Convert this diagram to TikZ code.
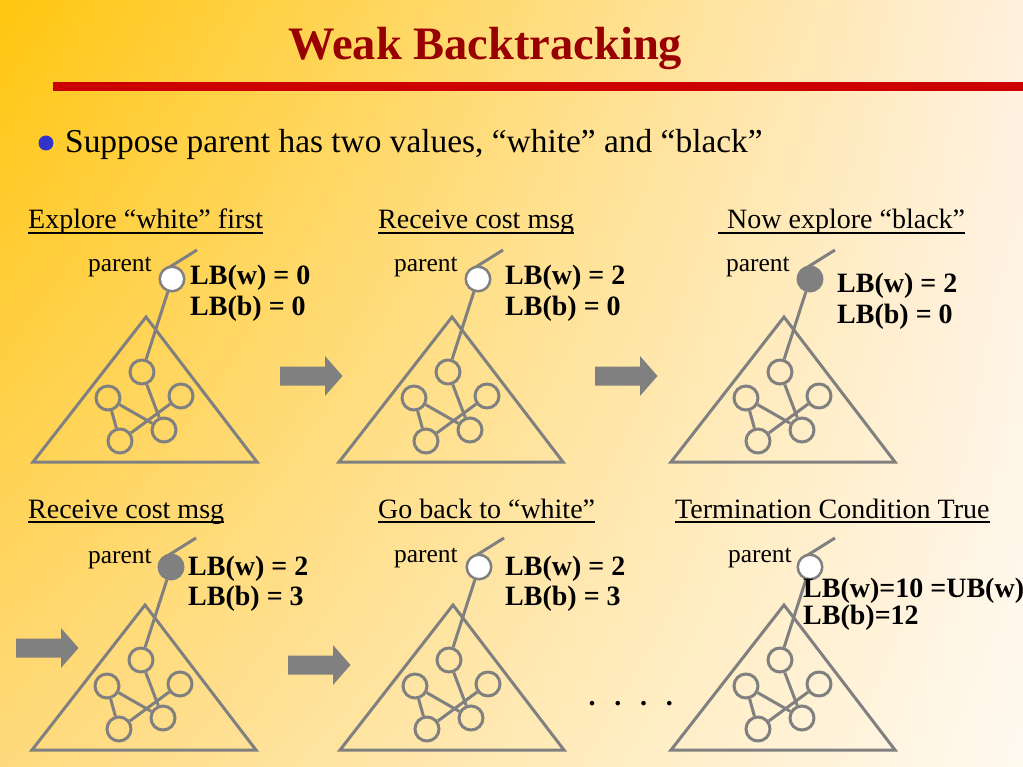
\documentclass[tikz,border=0pt]{standalone}
\usepackage{fontspec}
\setmainfont{Liberation Serif}
\usetikzlibrary{shadings}
\definecolor{bgTL}{RGB}{255,198,15}
\definecolor{bgTR}{RGB}{255,240,222}
\definecolor{bgBL}{RGB}{255,218,125}
\definecolor{bgBR}{RGB}{255,249,240}
\definecolor{ttl}{RGB}{153,0,0}
\definecolor{rline}{RGB}{204,0,0}
\definecolor{bul}{RGB}{51,51,204}
\definecolor{gr}{RGB}{128,128,128}
\tikzset{
  gline/.style={draw=gr, line width=3pt},
  small/.style={circle, draw=gr, line width=3pt, minimum size=24pt, inner sep=0pt},
  pnode/.style={circle, draw=gr, line width=2.5pt, minimum size=24.5pt, inner sep=0pt},
  lbl/.style={inner sep=0pt, font=\fontsize{28}{30}\selectfont\bfseries, anchor=base west},
  parlbl/.style={inner sep=0pt, font=\fontsize{25.5}{28}\selectfont, anchor=base east},
  head/.style={inner sep=0pt, font=\fontsize{28}{30}\selectfont, anchor=base west},
  uline/.style={draw=black, line width=1.6pt},
  pics/tree/.style={code={
    \draw[gline, line join=miter] (-113,145) -- (0,0) -- (111,145) -- cycle;
    \node[small] (-T) at (-4,55) {};
    \node[small] (-L) at (-38,81) {};
    \node[small] (-R) at (35,79) {};
    \node[small] (-BL) at (-26,124) {};
    \node[small] (-BR) at (18,113) {};
    \draw[gline] (-T) -- (-BR);
    \draw[gline] (-L) -- (-BR);
    \draw[gline] (-L) -- (-BL);
    \draw[gline] (-R) -- (-BL);
    \coordinate (-s) at (19,-47);
    \coordinate (-e) at (51,-67);
    \draw[gline] (-s) -- (-e);
    \node[pnode, fill=#1] (-P) at (26,-38) {};
    \draw[gline] (-P) -- (-T);
  }},
  pics/barrow/.style={code={
    \fill[gr] (0,-9.5) -- (45,-9.5) -- (45,-20) -- (62.5,0) -- (45,20) -- (45,9.5) -- (0,9.5) -- cycle;
  }},
}
\begin{document}
\begin{tikzpicture}[x=1pt,y=-1pt]
\useasboundingbox (0,0) rectangle (1023,767);
\shade[upper left=bgTL, upper right=bgTR, lower left=bgBL, lower right=bgBR] (0,0) rectangle (1023,767);
% title
\node[inner sep=0pt, anchor=base west, text=ttl, font=\fontsize{46.5}{50}\selectfont\bfseries] (title) at (288,60) {Weak Backtracking};
\fill[rline] (53,82) rectangle (1023,91);
% bullet
\fill[bul] (46,143) circle[radius=7.5];
\node[inner sep=0pt, anchor=base west, font=\fontsize{33.4}{36}\selectfont] (bullet) at (65,153) {Suppose parent has two values, “white” and “black”};
% trees
\pic (t1) at (146,317) {tree=white};
\pic (t2) at (452,317) {tree=white};
\pic (t3) at (784,317) {tree=gr};
\pic (t4) at (145,605) {tree=gr};
\pic (t5) at (453,605) {tree=white};
\pic (t6) at (784,605) {tree=white};
% arrows
\pic (a1) at (280,376) {barrow};
\pic (a2) at (595,376) {barrow};
\pic (a3) at (16,648) {barrow};
\pic (a4) at (288,665) {barrow};
% headings
\node[head] (h1) at (28,229) {Explore “white” first};
\node[head] (h2) at (378,229) {Receive cost msg};
\node[head] (h3) at (727,229) {Now explore “black”};
\node[head] (h4) at (28,518) {Receive cost msg};
\node[head] (h5) at (378,518) {Go back to “white”};
\node[head] (h6) at (675,518) {Termination Condition True};
\draw[uline] ([yshift=-4pt]h1.base west) -- ([yshift=-4pt]h1.base east);
\draw[uline] ([yshift=-4pt]h2.base west) -- ([yshift=-4pt]h2.base east);
\draw[uline] ([xshift=-9pt,yshift=-4pt]h3.base west) -- ([yshift=-4pt]h3.base east);
\draw[uline] ([yshift=-4pt]h4.base west) -- ([yshift=-4pt]h4.base east);
\draw[uline] ([yshift=-4pt]h5.base west) -- ([yshift=-4pt]h5.base east);
\draw[uline] ([yshift=-4pt]h6.base west) -- ([yshift=-4pt]h6.base east);
% parent labels
\node[parlbl] (pl1) at (152,272) {parent};
\node[parlbl] (pl2) at (458,272) {parent};
\node[parlbl] (pl3) at (790,272) {parent};
\node[parlbl] (pl4) at (152,563) {parent};
\node[parlbl] (pl5) at (458,562) {parent};
\node[parlbl] (pl6) at (792,562) {parent};
% LB labels
\node[lbl] (w1) at (190,285) {LB(w) = 0};
\node[lbl] (b1) at (190,316) {LB(b) = 0};
\node[lbl] (w2) at (505,285) {LB(w) = 2};
\node[lbl] (b2) at (505,316) {LB(b) = 0};
\node[lbl] (w3) at (837,293) {LB(w) = 2};
\node[lbl] (b3) at (837,324) {LB(b) = 0};
\node[lbl] (w4) at (188,575) {LB(w) = 2};
\node[lbl] (b4) at (188,605) {LB(b) = 3};
\node[lbl] (w5) at (505,575) {LB(w) = 2};
\node[lbl] (b5) at (505,605) {LB(b) = 3};
\node[lbl] (w6) at (803,597) {LB(w)=10 =UB(w)};
\node[lbl] (b6) at (803,624) {LB(b)=12};
% dots
\node[lbl] (dots) at (588.5,705) {.\hspace{18.7pt}.\hspace{18.7pt}.\hspace{18.7pt}.};
\end{tikzpicture}
\end{document}
